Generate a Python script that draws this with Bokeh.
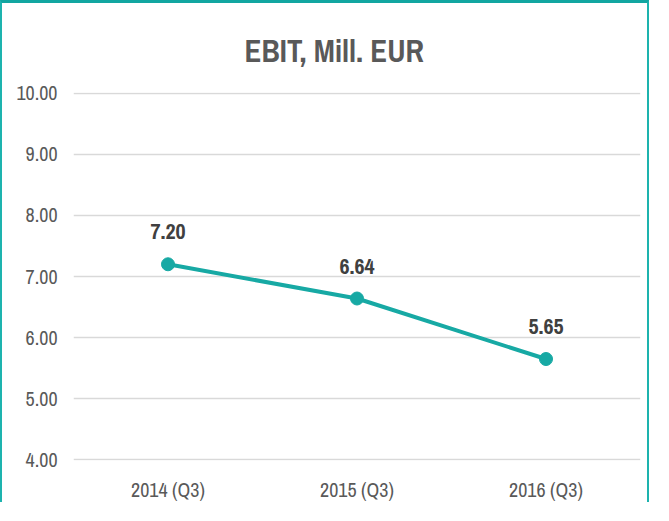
from bokeh.plotting import figure
from bokeh.models import FactorRange, Range1d, FixedTicker, NumeralTickFormatter, ColumnDataSource, LabelSet
from bokeh.core.properties import value
from bokeh.embed import file_html
from bokeh.resources import INLINE

# ---- data ----
categories = ["2014 (Q3)", "2015 (Q3)", "2016 (Q3)"]
ebit = [7.20, 6.64, 5.65]
ebit_labels = ["7.20", "6.64", "5.65"]
y_ticks = [4, 5, 6, 7, 8, 9, 10]
title_text = "EBIT, Mill. EUR"

TEAL = "#17A9A4"
TEXT = "#595959"
FONT = "Archivo Narrow"

src = ColumnDataSource(dict(x=categories, y=ebit, lab=ebit_labels))

p = figure(
    width=649, height=502,
    x_range=FactorRange(*categories, range_padding=0),
    y_range=Range1d(3.99, 10.01),
    output_backend="svg", toolbar_location=None,
    min_border_left=71, min_border_right=11, min_border_top=89, min_border_bottom=42,
)
p.styles = {
    "border-top": "3px solid #12A6A1",
    "border-left": "2px solid #1DB3AE",
    "border-right": "2px solid #1DB3AE",
}
p.outline_line_color = None
p.background_fill_color = "white"
p.border_fill_color = "white"

p.title.text = title_text
p.title.align = "left"
p.title.offset = 171
p.title.standoff = 42
p.title.text_font = FONT
p.title.text_font_size = "31px"
p.title.text_font_style = "bold"
p.title.text_color = TEXT

p.line("x", "y", source=src, line_color=TEAL, line_width=4)
p.scatter("x", "y", source=src, size=13, fill_color=TEAL, line_color=TEAL)

labels = LabelSet(x="x", y="y", text="lab", source=src, y_offset=25,
                  text_align="center", text_baseline="alphabetic",
                  text_font=value(FONT), text_font_size="22px", text_font_style="bold",
                  text_color="#404040")
p.add_layout(labels)

p.yaxis.ticker = FixedTicker(ticks=y_ticks)
p.yaxis.formatter = NumeralTickFormatter(format="0.00")
for ax in (p.xaxis[0], p.yaxis[0]):
    ax.axis_line_color = None
    ax.major_tick_line_color = None
    ax.minor_tick_line_color = None
    ax.major_label_text_font = FONT
    ax.major_label_text_font_size = "20px"
    ax.major_label_text_color = TEXT
p.yaxis.major_label_standoff = 10
p.xaxis.major_label_standoff = 9

p.xgrid.grid_line_color = None
p.ygrid.grid_line_color = "#D9D9D9"
p.ygrid.grid_line_width = 1.5

open("out.html", "w").write(file_html(p, INLINE))
